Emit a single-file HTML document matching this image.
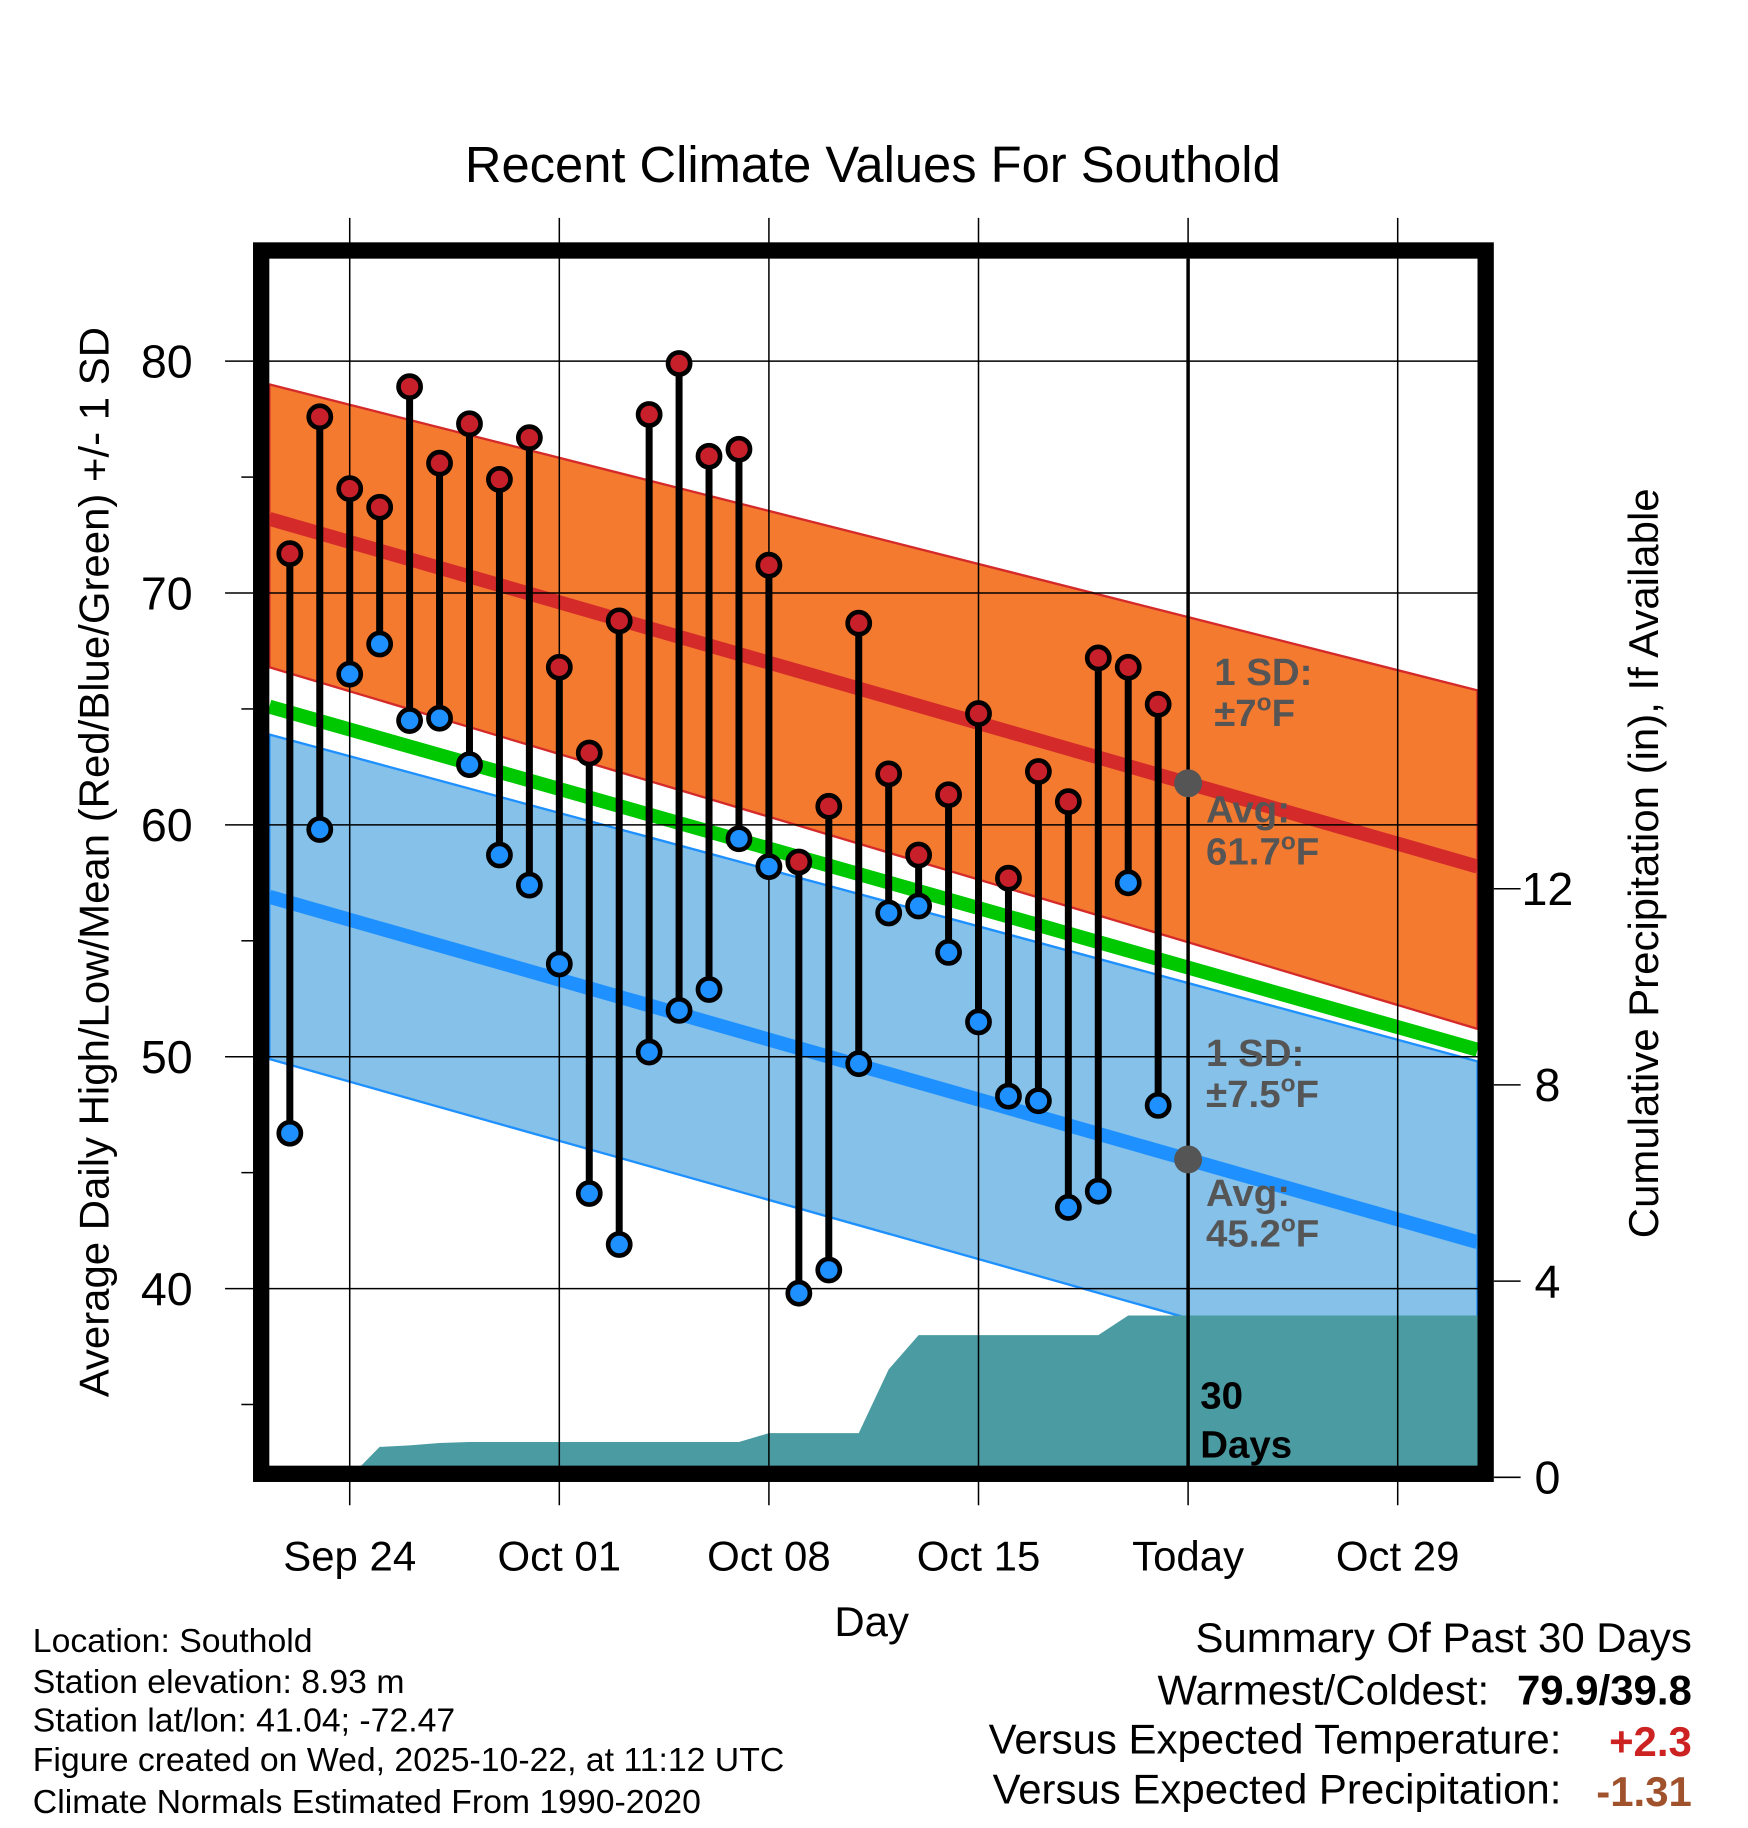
<!DOCTYPE html>
<html><head><meta charset="utf-8"><style>
html,body{margin:0;padding:0;background:#fff;}
svg{display:block;font-family:"Liberation Sans",sans-serif;}
</style></head><body>
<svg id="chart" width="1748" height="1828" viewBox="0 0 1500 1569" xmlns="http://www.w3.org/2000/svg">
<g id="bg"></g>
<g id="marks"></g>
<g id="fg"></g>
</svg>
<script>
// ---- data ----
const dayOffsets = [-2,-1,0,1,2,3,4,5,6,7,8,9,10,11,12,13,14,15,16,17,18,19,20,21,22,23,24,25,26,27];
const highs = [71.7,77.6,74.5,73.7,78.9,75.6,77.3,74.9,76.7,66.8,63.1,68.8,77.7,79.9,75.9,76.2,71.2,58.4,60.8,68.7,62.2,58.7,61.3,64.8,57.7,62.3,61.0,67.2,66.8,65.2];
const lows = [46.7,59.8,66.5,67.8,64.5,64.6,62.6,58.7,57.4,54.0,44.1,41.9,50.2,52.0,52.9,59.4,58.2,39.8,40.8,49.7,56.2,56.5,54.5,51.5,48.3,48.1,43.5,44.2,57.5,47.9];
const precip = [0,0,0,0.62,0.65,0.7,0.72,0.72,0.72,0.72,0.72,0.72,0.72,0.72,0.72,0.72,0.9,0.9,0.9,0.9,2.2,2.9,2.9,2.9,2.9,2.9,2.9,2.9,3.3,3.3];
const normHighStart = 73.2, normHighEnd = 58.2, highSD = 6.4;
const normLowStart = 56.9, normLowEnd = 42.0;
const lowBandTopStart = 63.9, lowBandTopEnd = 49.8, lowBandBotStart = 49.9, lowBandBotEnd = 35.2;
const normMeanStart = 65.1, normMeanEnd = 50.3;
const xTickDays = [0,7,14,21,28,35];
const xTickLabels = ["Sep 24","Oct 01","Oct 08","Oct 15","Today","Oct 29"];
const yTicks = [80,70,60,50,40];
const yMinor = [75,65,55,45,35];
const pTicks = [0,4,8,12];

// ---- axes ----
const X0=231,X1=1268,Y0=222,Y1=1260;
const x = d => 300 + 25.7*d;
const y = v => 310 + (80-v)*19.9;
const yp = p => 1268 - p*42.1;
const dL = (X0-300)/25.7, dR = (X1-300)/25.7;
const NS="http://www.w3.org/2000/svg";
function mk(parent, tag, attrs, text){
  const e=document.createElementNS(NS,tag);
  for(const k in attrs) e.setAttribute(k,attrs[k]);
  if(text!==undefined) e.textContent=text;
  document.getElementById(parent).appendChild(e); return e;
}
function band(startTop,endTop,startBot,endBot){
  return `M${X0},${y(startTop)} L${X1},${y(endTop)} L${X1},${y(endBot)} L${X0},${y(startBot)}Z`;
}
const lerp=(a,b,d)=>a+(b-a)*(d-dL)/(dR-dL);

let e;
e=mk('bg','path',{d:band(lowBandTopStart,lowBandTopEnd,lowBandBotStart,lowBandBotEnd),fill:'#85c1e9',stroke:'#1e90ff','stroke-width':2});

e=mk('bg','path',{d:band(normHighStart+highSD-0.6,normHighEnd+highSD+1.2,normHighStart-highSD,normHighEnd-highSD-0.6),fill:'#f47a30',stroke:'#d42a2a','stroke-width':2});

e=mk('bg','line',{x1:X0,y1:y(normMeanStart),x2:X1,y2:y(normMeanEnd),stroke:'#00c800','stroke-width':12});

e=mk('bg','line',{x1:X0,y1:y(normHighStart),x2:X1,y2:y(normHighEnd),stroke:'#d42a2a','stroke-width':12});

e=mk('bg','line',{x1:X0,y1:y(normLowStart),x2:X1,y2:y(normLowEnd),stroke:'#1e90ff','stroke-width':12});


// Precip area
let pd=`M${x(dayOffsets[0])},${yp(0)}`;
dayOffsets.forEach((d,i)=>{pd+=` L${x(d)},${yp(precip[i])}`;});
pd+=` L${X1},${yp(precip[precip.length-1])} L${X1},${Y1} L${x(dayOffsets[0])},${Y1}Z`;
e=mk('bg','path',{d:pd,fill:'#4a9ba2'});


// Grid
xTickDays.forEach((d,i)=>{
  e=mk('bg','line',{x1:x(d),y1:187,x2:x(d),y2:1292,stroke:'#000','stroke-width':1.3});
  
  e=mk('fg','text',{x:x(d),y:1348,'font-size':36,'text-anchor':'middle'},xTickLabels[i]);
  
});
yTicks.forEach(v=>{
  e=mk('bg','line',{x1:193,y1:y(v),x2:X1,y2:y(v),stroke:'#000','stroke-width':1.3});
  
  e=mk('fg','text',{x:143,y:y(v)+14,'font-size':40,'text-anchor':'middle'},String(v));
  
});
yMinor.forEach(v=>{
  e=mk('fg','line',{x1:207,y1:y(v),x2:217,y2:y(v),stroke:'#000','stroke-width':1.3});
  
});
pTicks.forEach(p=>{
  e=mk('fg','line',{x1:1282,y1:yp(p),x2:1305,y2:yp(p),stroke:'#000','stroke-width':1.3});
  
  e=mk('fg','text',{x:1328,y:yp(p)+14,'font-size':40,'text-anchor':'middle'},String(p));
  
});

// Today line
e=mk('marks','line',{x1:x(28),y1:Y0,x2:x(28),y2:Y1,stroke:'#000','stroke-width':3});


dayOffsets.forEach((d,i)=>{
  const s=mk('marks','line',{x1:x(d),y1:y(highs[i]),x2:x(d),y2:y(lows[i]),stroke:'#000','stroke-width':6});
  
  
});
dayOffsets.forEach((d,i)=>{
  const h=mk('marks','circle',{cx:x(d),cy:y(highs[i]),r:9.5,fill:'#c8202a',stroke:'#000','stroke-width':4});
  
  
  const l=mk('marks','circle',{cx:x(d),cy:y(lows[i]),r:9.5,fill:'#1e90ff',stroke:'#000','stroke-width':4});
  
  
});
const todayHigh=lerp(normHighStart,normHighEnd,28), todayLow=lerp(normLowStart,normLowEnd,28);
e=mk('marks','circle',{cx:x(28),cy:y(todayHigh),r:12,fill:'#555'});

e=mk('marks','circle',{cx:x(28),cy:y(todayLow),r:12,fill:'#555'});


const ann=[["1 SD:",1042,588],["±7°F",1042,623],["Avg:",1035,706],["61.7°F",1035,742],["1 SD:",1035,915],["±7.5°F",1035,950],["Avg:",1035,1035],["45.2°F",1035,1070]];
ann.forEach(a=>{
  let t=a[0];
  const el=mk('fg','text',{x:a[1],y:a[2],'font-size':33,'font-weight':'bold',fill:'#555'});
  
  
  const m=t.match(/^(.*?)°F$/);
  if(m){el.textContent=m[1];const ts=document.createElementNS(NS,'tspan');ts.setAttribute('dy','-13');ts.setAttribute('font-size','21');ts.textContent='o';el.appendChild(ts);const t2=document.createElementNS(NS,'tspan');t2.setAttribute('dy','13');t2.textContent='F';el.appendChild(t2);}
  else el.textContent=t;
});
e=mk('fg','text',{x:1030,y:1209,'font-size':33,'font-weight':'bold'},'30');

e=mk('fg','text',{x:1030,y:1251,'font-size':33,'font-weight':'bold'},'Days');


e=mk('fg','rect',{x:224,y:215,width:1051,height:1050,fill:'none',stroke:'#000','stroke-width':14});


e=mk('fg','text',{x:749,y:156,'font-size':43.5,'text-anchor':'middle'},'Recent Climate Values For Southold');

e=mk('fg','text',{x:748,y:1404,'font-size':36,'text-anchor':'middle'},'Day');

e=mk('fg','text',{x:0,y:0,'font-size':36,'text-anchor':'middle',transform:'translate(93,740) rotate(-90)'},'Average Daily High/Low/Mean (Red/Blue/Green) +/- 1 SD');

e=mk('fg','text',{x:0,y:0,'font-size':36,'text-anchor':'middle',transform:'translate(1423,741) rotate(-90)'},'Cumulative Precipitation (in), If Available');


const info=[["Location: Southold",1418],["Station elevation: 8.93 m",1453],["Station lat/lon: 41.04; -72.47",1486],["Figure created on Wed, 2025-10-22, at 11:12 UTC",1520],["Climate Normals Estimated From 1990-2020",1556]];
info.forEach(r=>{
  const el=mk('fg','text',{x:28,y:r[1],'font-size':29},r[0]);
  
  
});
const sum=[["Summary Of Past 30 Days",1452,1418,36,'normal','#000'],["Warmest/Coldest:",1278,1463,36,'normal','#000'],["79.9/39.8",1452,1463,36,'bold','#000'],["Versus Expected Temperature:",1340,1505,36,'normal','#000'],["+2.3",1452,1507,36,'bold','#cc2222'],["Versus Expected Precipitation:",1340,1548,36,'normal','#000'],["-1.31",1452,1550,36,'bold','#a0522d']];
sum.forEach(r=>{
  const el=mk('fg','text',{x:r[1],y:r[2],'font-size':r[3],'font-weight':r[4],fill:r[5],'text-anchor':'end'},r[0]);
  
  
});
</script>
</body></html>
